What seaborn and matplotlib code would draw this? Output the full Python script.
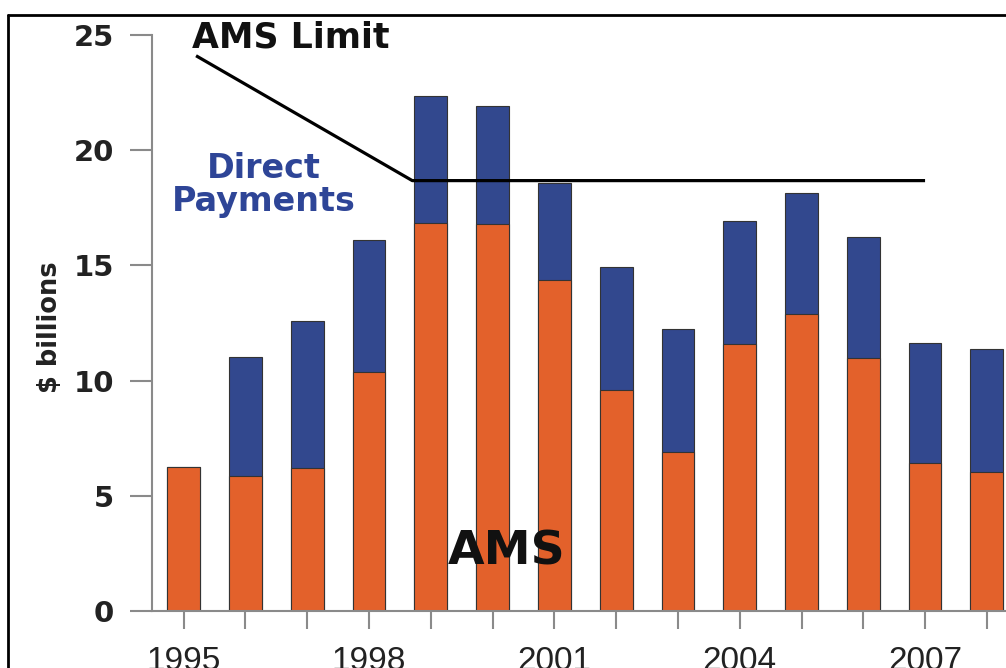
import seaborn as sns
import matplotlib.pyplot as plt
import pandas as pd
from matplotlib.lines import Line2D

sns.set_theme(style="white")
plt.rcParams['font.family'] = ['DejaVu Sans']

years = list(range(1995, 2009))
ams = [6.27, 5.88, 6.22, 10.39, 16.83, 16.8, 14.37, 9.6, 6.92, 11.59, 12.9, 10.97, 6.41, 6.05]
direct = [0, 5.16, 6.37, 5.72, 5.53, 5.1, 4.2, 5.35, 5.32, 5.34, 5.25, 5.28, 5.24, 5.33]
limit_x = [1995.2, 1998.7, 2007.0]
limit_y = [24.1, 18.68, 18.68]
year_labels = ["1995", "1998", "2001", "2004", "2007"]

df = pd.DataFrame({"Year": years, "AMS": ams, "Direct": direct})
df["Total"] = df["AMS"] + df["Direct"]

orange = "#E3612B"
blue = "#32488E"
gray = "#8a8a8a"

fig = plt.figure(figsize=(10.06, 6.68), dpi=100)
ax = fig.add_axes([152 / 1006, 57 / 668, 854 / 1006, 576 / 668])

sns.barplot(data=df, x="Year", y="Total", native_scale=True, width=0.53,
            color=blue, saturation=1, edgecolor="#333333", linewidth=0.8, ax=ax)
sns.barplot(data=df, x="Year", y="AMS", native_scale=True, width=0.53,
            color=orange, saturation=1, edgecolor="#333333", linewidth=0.8, ax=ax)

ax.plot(limit_x, limit_y, color="black", linewidth=2.3, solid_capstyle="butt")

ax.set_xlim(1994.487, 2008.31)
ax.set_ylim(0, 25)
ax.set_xticks(years)
ax.set_xticklabels([str(y) if str(y) in year_labels else "" for y in years],
                   fontsize=24, family="Liberation Sans")
ax.set_yticks([0, 5, 10, 15, 20, 25])
ax.set_yticklabels(["0", "5", "10", "15", "20", "25"], fontsize=21, fontweight="bold",
                   color="#222222")
ax.tick_params(axis="y", length=15.8, width=1.5, color=gray, pad=11.5, left=True)
ax.tick_params(axis="x", length=13, width=1.5, color=gray, pad=12, bottom=True,
               labelcolor="#222222")

for s in ["top", "right"]:
    ax.spines[s].set_visible(False)
for s in ["left", "bottom"]:
    ax.spines[s].set_color(gray)
    ax.spines[s].set_linewidth(1.5)

ax.set_xlabel("")
ax.set_ylabel("$ billions", fontsize=18.5, fontweight="bold", color="#222222")
ax.yaxis.set_label_coords(-0.104, 0.493)

ax.text(1995.13, 24.45, "AMS Limit", fontsize=25, fontweight="bold", color="#111111",
        va="baseline", ha="left")
ax.text(1996.3, 18.5, "Direct\nPayments", fontsize=24, fontweight="bold", color="#2E4597",
        ha="center", va="center", linespacing=1.0)
ax.text(2000.22, 2.0, "AMS", fontsize=34, fontweight="bold", color="#111111",
        ha="center", va="baseline")

# frame around the figure (cut at right and bottom)
fig.add_artist(Line2D([8 / 1006, 8 / 1006], [0, 1 - 15 / 668], color="black",
                      linewidth=2, transform=fig.transFigure))
fig.add_artist(Line2D([8 / 1006, 1], [1 - 15 / 668, 1 - 15 / 668], color="black",
                      linewidth=2, transform=fig.transFigure))

fig.savefig("out.png", dpi=100)
